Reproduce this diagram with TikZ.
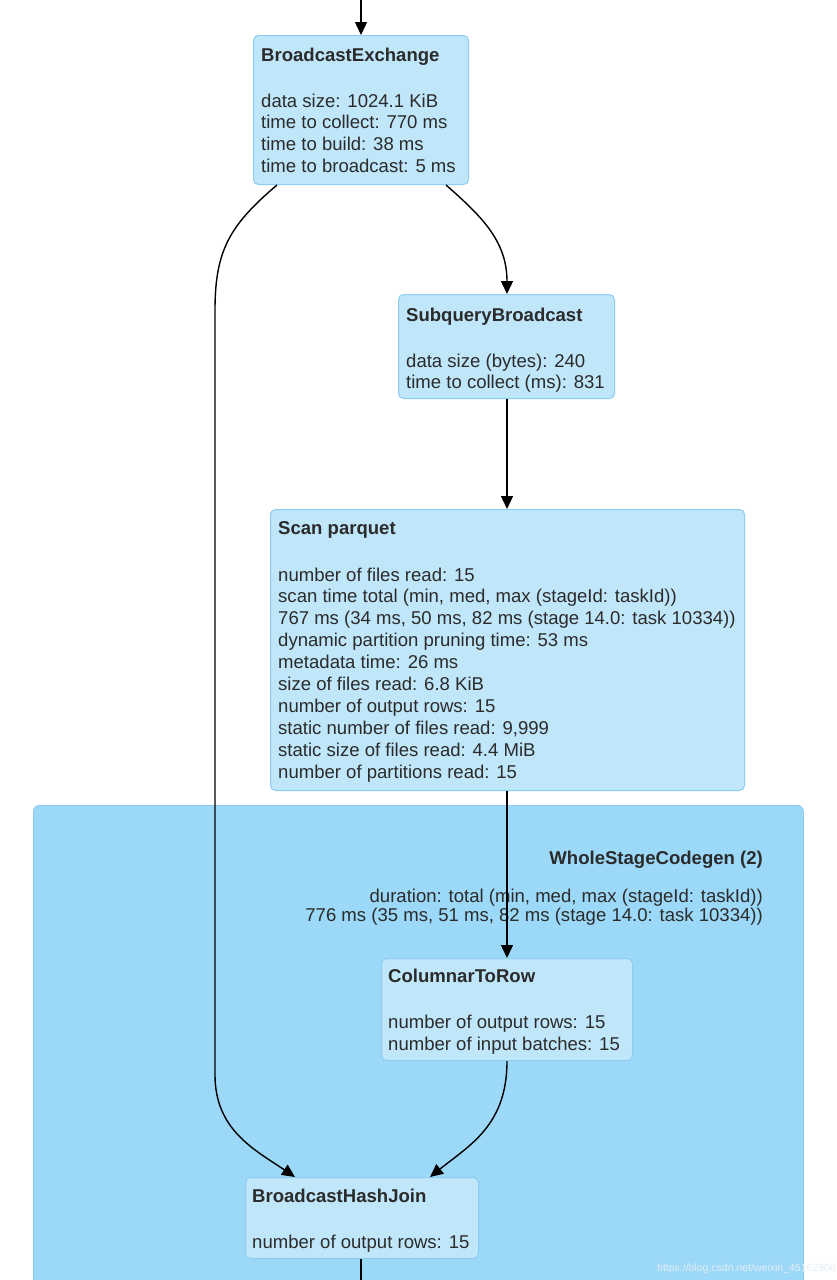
\documentclass[tikz,border=0pt]{standalone}
\usepackage{fontspec}
\setmainfont{Liberation Sans}
\usetikzlibrary{arrows.meta}
\definecolor{nodefill}{HTML}{C0E6FA}
\definecolor{nodeline}{HTML}{8CCDF0}
\definecolor{clusterfill}{HTML}{9CD8F8}
\definecolor{clusterline}{HTML}{8CCBEE}
\definecolor{txtcol}{HTML}{2B2B2B}
\definecolor{wmcol}{HTML}{E4EEF3}
\begin{document}
\begin{tikzpicture}[x=1pt,y=-1pt,
  box/.style={draw=nodeline, fill=nodefill, rounded corners=5pt, line width=1pt, inner sep=0pt, anchor=north west},
  cluster/.style={draw=clusterline, fill=clusterfill, rounded corners=6pt, line width=0.8pt, inner sep=0pt, anchor=north west},
  lbl/.style={anchor=north west, inner sep=0pt, align=left, text=txtcol, font=\fontsize{18.55}{21.9}\selectfont},
  clbl/.style={anchor=north east, inner sep=0pt, align=right, text=txtcol, font=\fontsize{18.55}{19.5}\selectfont},
  edge/.style={-{Triangle[length=13pt,width=12pt]}, line width=1.4pt, black},
  plain/.style={line width=1.4pt, black}]
\useasboundingbox (0,0) rectangle (836,1280);
\fill[white] (0,0) rectangle (836,1280);

% cluster
\node[cluster, minimum width=770, minimum height=490] (wsc) at (33,805) {};
\node[clbl] (wsct) at (763,851) {\textbf{WholeStageCodegen (2)}\\[18pt]
duration: total (min, med, max (stageId: taskId))\\
776 ms (35 ms, 51 ms, 82 ms (stage 14.0: task 10334))};

% boxes
\node[box, minimum width=215, minimum height=149] (be) at (253,35) {};
\node[lbl] (bet) at (261,47.5) {\textbf{BroadcastExchange}\\[24pt]
data size: 1024.1 KiB\\
time to collect: 770 ms\\
time to build: 38 ms\\
time to broadcast: 5 ms};

\node[box, minimum width=216, minimum height=104] (sb) at (398,294) {};
\node[lbl] (sbt) at (406,307.5) {\textbf{SubqueryBroadcast}\\[24pt]
data size (bytes): 240\\
time to collect (ms): 831};

\node[box, minimum width=474, minimum height=281] (scan) at (270,509) {};
\node[lbl] (scant) at (278,521) {\textbf{Scan parquet}\\[25pt]
number of files read: 15\\
scan time total (min, med, max (stageId: taskId))\\
767 ms (34 ms, 50 ms, 82 ms (stage 14.0: task 10334))\\
dynamic partition pruning time: 53 ms\\
metadata time: 26 ms\\
size of files read: 6.8 KiB\\
number of output rows: 15\\
static number of files read: 9,999\\
static size of files read: 4.4 MiB\\
number of partitions read: 15};

\node[box, minimum width=251, minimum height=102] (ctr) at (381,958) {};
\node[lbl] (ctrt) at (388,969) {\textbf{ColumnarToRow}\\[24pt]
number of output rows: 15\\
number of input batches: 15};

\node[box, minimum width=233, minimum height=81] (bhj) at (245,1177) {};
\begin{scope}
\clip (245,1177) rectangle (474,1258);
\node[lbl] (bhjt) at (252,1189) {\textbf{BroadcastHashJoin}\\[24pt]
number of output rows: 15};
\end{scope}

% outside ends
\coordinate (topin) at (361,0);
\coordinate (botout) at (361,1282);

% edges
\draw[edge] (topin) -- (be.north -| topin);
\draw[edge] ([xshift=-23pt]be.south east) .. controls (480,215) and (507,240) .. (507,294);
\draw[edge] ([xshift=24pt]be.south west) .. controls (230,225) and (215,250) .. (215,310) -- (215,1075) .. controls (215,1130) and (255,1150) .. (295,1177);
\draw[edge] (sb.south -| 507,0) -- (scan.north -| 507,0);
\draw[edge] (scan.south -| 507,0) -- (ctr.north -| 507,0);
\draw[edge] (ctr.south -| 507,0) .. controls (507,1125) and (470,1145) .. (430,1177);
\draw[plain] (bhj.south -| botout) -- (botout);

% watermark
\node[anchor=east, inner sep=0pt, text=wmcol, font=\fontsize{10.5}{12}\selectfont] (wm) at (836,1269) {https://blog.csdn.net/weixin\_45162906};
\end{tikzpicture}
\end{document}
